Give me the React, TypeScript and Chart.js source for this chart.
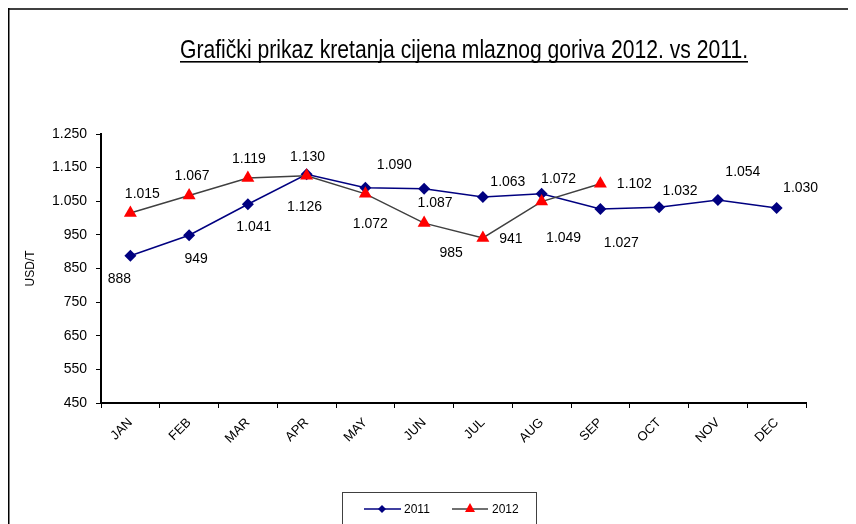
import React, { useEffect, useRef } from "react";
import { Chart, registerables } from "chart.js";

Chart.register(...registerables);

// ---------- data ----------
const months = ["JAN", "FEB", "MAR", "APR", "MAY", "JUN", "JUL", "AUG", "SEP", "OCT", "NOV", "DEC"];
const prices2011 = [888, 949, 1041, 1130, 1090, 1087, 1063, 1072, 1027, 1032, 1054, 1030];
const prices2012 = [1015, 1067, 1119, 1126, 1072, 985, 941, 1049, 1102, null, null, null];
const seriesNames = ["2011", "2012"];
const yMin = 450;
const yMax = 1250;
const yStep = 100;
const titleText = "Grafički prikaz kretanja cijena mlaznog goriva 2012. vs 2011.";
const yAxisTitle = "USD/T";

// ---------- style ----------
const FONT = "'Liberation Sans', Arial, sans-serif";
const NARROW = "'Liberation Sans Narrow', 'Arial Narrow', 'Liberation Sans', Arial, sans-serif";
const COLOR_2011 = "#000080";
const LINE_2012 = "#404040";
const MARK_2012 = "#FF0000";
// label offsets (px) relative to each point, in the order of the points
const labelOffsets2011 = [
  [-11, 23], [7, 24], [6, 23], [1, -17], [29, -23], [11, 14],
  [25, -15], [17, -15], [21, 34], [21, -16], [25, -28], [24, -20],
];
const labelOffsets2012 = [
  [12, -19], [3, -19], [1, -19], [-2, 31], [5, 30], [27, 30], [28, 1], [22, 37], [34, 0],
];

const fmt = (v: number) =>
  v >= 1000 ? `${Math.floor(v / 1000)}.${String(Math.round(v % 1000)).padStart(3, "0")}` : String(v);

const decorPlugin = {
  id: "decor",
  afterDatasetsDraw(chart: any) {
    const ctx = chart.ctx;
    ctx.save();
    ctx.font = `14px ${FONT}`;
    ctx.fillStyle = "#000";
    ctx.textAlign = "center";
    ctx.textBaseline = "middle";
    const offs = [labelOffsets2011, labelOffsets2012];
    chart.data.datasets.forEach((ds: any, di: number) => {
      const meta = chart.getDatasetMeta(di);
      meta.data.forEach((pt: any, i: number) => {
        const v = ds.data[i];
        if (v == null) return;
        const o = offs[di][i] || [0, -15];
        ctx.fillText(fmt(v), pt.x + o[0], pt.y + o[1]);
      });
    });
    ctx.restore();
  },
  afterDraw(chart: any) {
    const ctx = chart.ctx;
    ctx.save();
    // frame (left + top)
    ctx.strokeStyle = "#404040";
    ctx.lineWidth = 2;
    ctx.beginPath();
    ctx.moveTo(0, 1);
    ctx.lineTo(chart.width, 1);
    ctx.stroke();
    ctx.strokeStyle = "#000";
    ctx.lineWidth = 1.5;
    ctx.beginPath();
    ctx.moveTo(0.75, 0);
    ctx.lineTo(0.75, chart.height);
    ctx.stroke();

    // title
    ctx.font = `26px ${NARROW}`;
    ctx.fillStyle = "#000";
    ctx.textBaseline = "alphabetic";
    ctx.textAlign = "left";
    const targetW = 568;
    const w = ctx.measureText(titleText).width;
    const sx = targetW / w;
    const left = 456 - targetW / 2;
    ctx.save();
    ctx.translate(left, 50);
    ctx.scale(sx, 1);
    ctx.fillText(titleText, 0, 0);
    ctx.restore();
    ctx.fillRect(left, 53, targetW, 1.6);

    // legend
    ctx.strokeStyle = "#404040";
    ctx.lineWidth = 1;
    ctx.strokeRect(334.5, 484.5, 194, 60);
    const ly = 501;
    ctx.lineWidth = 1.5;
    ctx.strokeStyle = COLOR_2011;
    ctx.beginPath();
    ctx.moveTo(356, ly);
    ctx.lineTo(393, ly);
    ctx.stroke();
    ctx.fillStyle = COLOR_2011;
    ctx.beginPath();
    ctx.moveTo(374, ly - 4);
    ctx.lineTo(378, ly);
    ctx.lineTo(374, ly + 4);
    ctx.lineTo(370, ly);
    ctx.closePath();
    ctx.fill();
    ctx.strokeStyle = LINE_2012;
    ctx.beginPath();
    ctx.moveTo(444, ly);
    ctx.lineTo(480, ly);
    ctx.stroke();
    ctx.fillStyle = MARK_2012;
    ctx.beginPath();
    ctx.moveTo(462, ly - 6);
    ctx.lineTo(467, ly + 3);
    ctx.lineTo(457, ly + 3);
    ctx.closePath();
    ctx.fill();
    ctx.fillStyle = "#000";
    ctx.font = `12px ${FONT}`;
    ctx.textBaseline = "middle";
    ctx.fillText(seriesNames[0], 396, ly + 1);
    ctx.fillText(seriesNames[1], 484, ly + 1);
    ctx.restore();
  },
};

export default function App() {
  const ref = useRef<HTMLCanvasElement>(null);
  useEffect(() => {
    if (!ref.current) return;
    const chart = new Chart(ref.current, {
      type: "line",
      data: {
        labels: months,
        datasets: [
          {
            label: seriesNames[0],
            data: prices2011,
            borderColor: COLOR_2011,
            backgroundColor: COLOR_2011,
            borderWidth: 1.5,
            pointStyle: "rectRot",
            pointRadius: 6,
            pointBorderWidth: 0,
            tension: 0,
            order: 1,
          },
          {
            label: seriesNames[1],
            data: prices2012,
            borderColor: LINE_2012,
            backgroundColor: MARK_2012,
            pointBackgroundColor: MARK_2012,
            pointBorderColor: MARK_2012,
            borderWidth: 1.5,
            pointStyle: "triangle",
            pointRadius: 7.5,
            pointBorderWidth: 0,
            tension: 0,
            order: 0,
          },
        ],
      },
      options: {
        responsive: false,
        animation: false,
        layout: { padding: { left: 0, right: 50, top: 126, bottom: 81 } },
        plugins: {
          legend: { display: false },
          tooltip: { enabled: false },
          title: { display: false },
        },
        scales: {
          x: {
            offset: true,
            grid: {
              offset: true,
              drawOnChartArea: false,
              drawTicks: true,
              tickLength: 5,
              color: "#000",
            },
            border: { display: true, color: "#000", width: 2 },
            ticks: {
              color: "#000",
              font: { family: FONT, size: 13 },
              minRotation: 45,
              maxRotation: 45,
              padding: 7,
              autoSkip: false,
            },
            afterFit(scale: any) {
              scale.height = 40;
            },
          },
          y: {
            min: yMin,
            max: yMax,
            ticks: {
              stepSize: yStep,
              color: "#000",
              font: { family: FONT, size: 14 },
              padding: 9,
              callback: (v: any) => fmt(Number(v)),
            },
            grid: {
              drawOnChartArea: false,
              drawTicks: true,
              tickLength: 5,
              color: "#000",
            },
            border: { display: true, color: "#000", width: 2 },
            title: {
              display: true,
              text: yAxisTitle,
              color: "#000",
              font: { family: FONT, size: 12 },
              padding: { top: 15, bottom: 0 },
            },
            afterFit(scale: any) {
              scale.width = 93;
            },
          },
        },
      },
      plugins: [decorPlugin],
    });
    return () => chart.destroy();
  }, []);
  return (
    <div style={{ width: 848, height: 516 }}>
      <canvas ref={ref} width={848} height={516} style={{ display: "block" }} />
    </div>
  );
}
